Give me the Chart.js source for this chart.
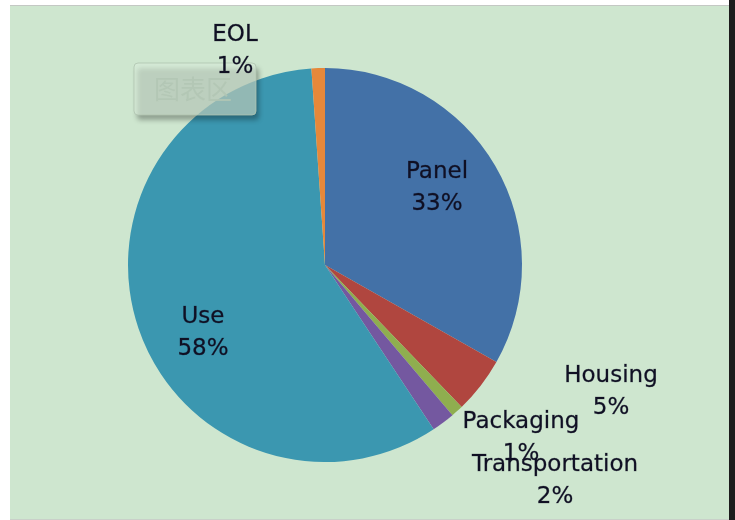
<!DOCTYPE html>
<html>
<head>
<meta charset="utf-8">
<script src="https://cdn.jsdelivr.net/npm/chart.js@4"></script>
<style>
  html, body { margin: 0; padding: 0; background: #ffffff; }
  #wrap { position: relative; width: 735px; height: 520px; overflow: hidden; }
  #frame { position: absolute; left: 10px; top: 5px; width: 719px; height: 513px;
           background: #cee6cf; border-top: 1px solid #c4c8c4; border-bottom: 2px solid #c9d0c9; }
  #edge { position: absolute; left: 729px; top: 0; width: 6px; height: 520px; background: #1c1c1c; }
  canvas { position: absolute; left: 0; top: 0; }
</style>
</head>
<body>
<div id="wrap">
  <div id="frame"></div>
  <div id="edge"></div>
  <canvas id="pieChart" width="735" height="520"></canvas>
</div>
<script>
const parts = ["Panel", "Housing", "Packaging", "Transportation", "Use", "EOL"];
const shares = [33.2, 4.6, 1.0, 1.9, 58.2, 1.1];
const warna = ["#4371a7", "#b0463f", "#8fae4f", "#7458a0", "#3b97b0", "#e6883a"];

// label block centre, relative to the pie centre (labels were dragged by hand in the original)
const labelOffset = [[112, -77], [286, 127], [196, 173], [230, 216], [-122, 68], [-90, -214]];

const pieLabels = {
    id: 'pieLabels',
    afterDraw(chart) {
        const ctx = chart.ctx;
        const arcs = chart.getDatasetMeta(0).data;
        const cx = arcs[0].x, cy = arcs[0].y;

        // the Excel hover tip "图表区" caught in the screenshot
        ctx.save();
        ctx.shadowColor = 'rgba(0,0,0,0.5)';
        ctx.shadowBlur = 5;
        ctx.shadowOffsetX = 3;
        ctx.shadowOffsetY = 5;
        ctx.fillStyle = 'rgba(216,236,218,0.6)';
        ctx.beginPath();
        ctx.roundRect(134, 63, 122, 52, 4);
        ctx.fill();
        ctx.shadowColor = 'transparent';
        ctx.strokeStyle = 'rgba(175,195,175,0.8)';
        ctx.lineWidth = 1;
        ctx.stroke();
        ctx.fillStyle = 'rgba(178,198,180,0.85)';
        ctx.font = '26px "Noto Sans CJK SC"';
        ctx.textAlign = 'center';
        ctx.textBaseline = 'middle';
        ctx.fillText('图表区', 193, 89);
        ctx.restore();

        ctx.save();
        ctx.fillStyle = '#101024';
        ctx.strokeStyle = 'rgba(16,16,36,0.5)';
        ctx.lineWidth = 0.5;
        ctx.font = '23px "DejaVu Sans"';
        ctx.textAlign = 'center';
        ctx.textBaseline = 'middle';
        arcs.forEach((arc, i) => {
            const x = cx + labelOffset[i][0];
            const y = cy + labelOffset[i][1];
            const pct = Math.round(shares[i]) + '%';
            ctx.fillText(parts[i], x, y - 16);
            ctx.strokeText(parts[i], x, y - 16);
            ctx.fillText(pct, x, y + 16);
            ctx.strokeText(pct, x, y + 16);
        });
        ctx.restore();
    }
};

const diagram = document.getElementById('pieChart').getContext('2d');
const pieChart = new Chart(diagram, {
    type: 'pie',
    data: {
        labels: parts,
        datasets: [{
            data: shares,
            backgroundColor: warna,
            borderWidth: 0
        }]
    },
    options: {
        responsive: false,
        animation: false,
        layout: {
            padding: { left: 128, right: 213, top: 68, bottom: 58 }
        },
        plugins: {
            legend: { display: false },
            tooltip: { enabled: false }
        }
    },
    plugins: [pieLabels]
});
</script>
</body>
</html>
